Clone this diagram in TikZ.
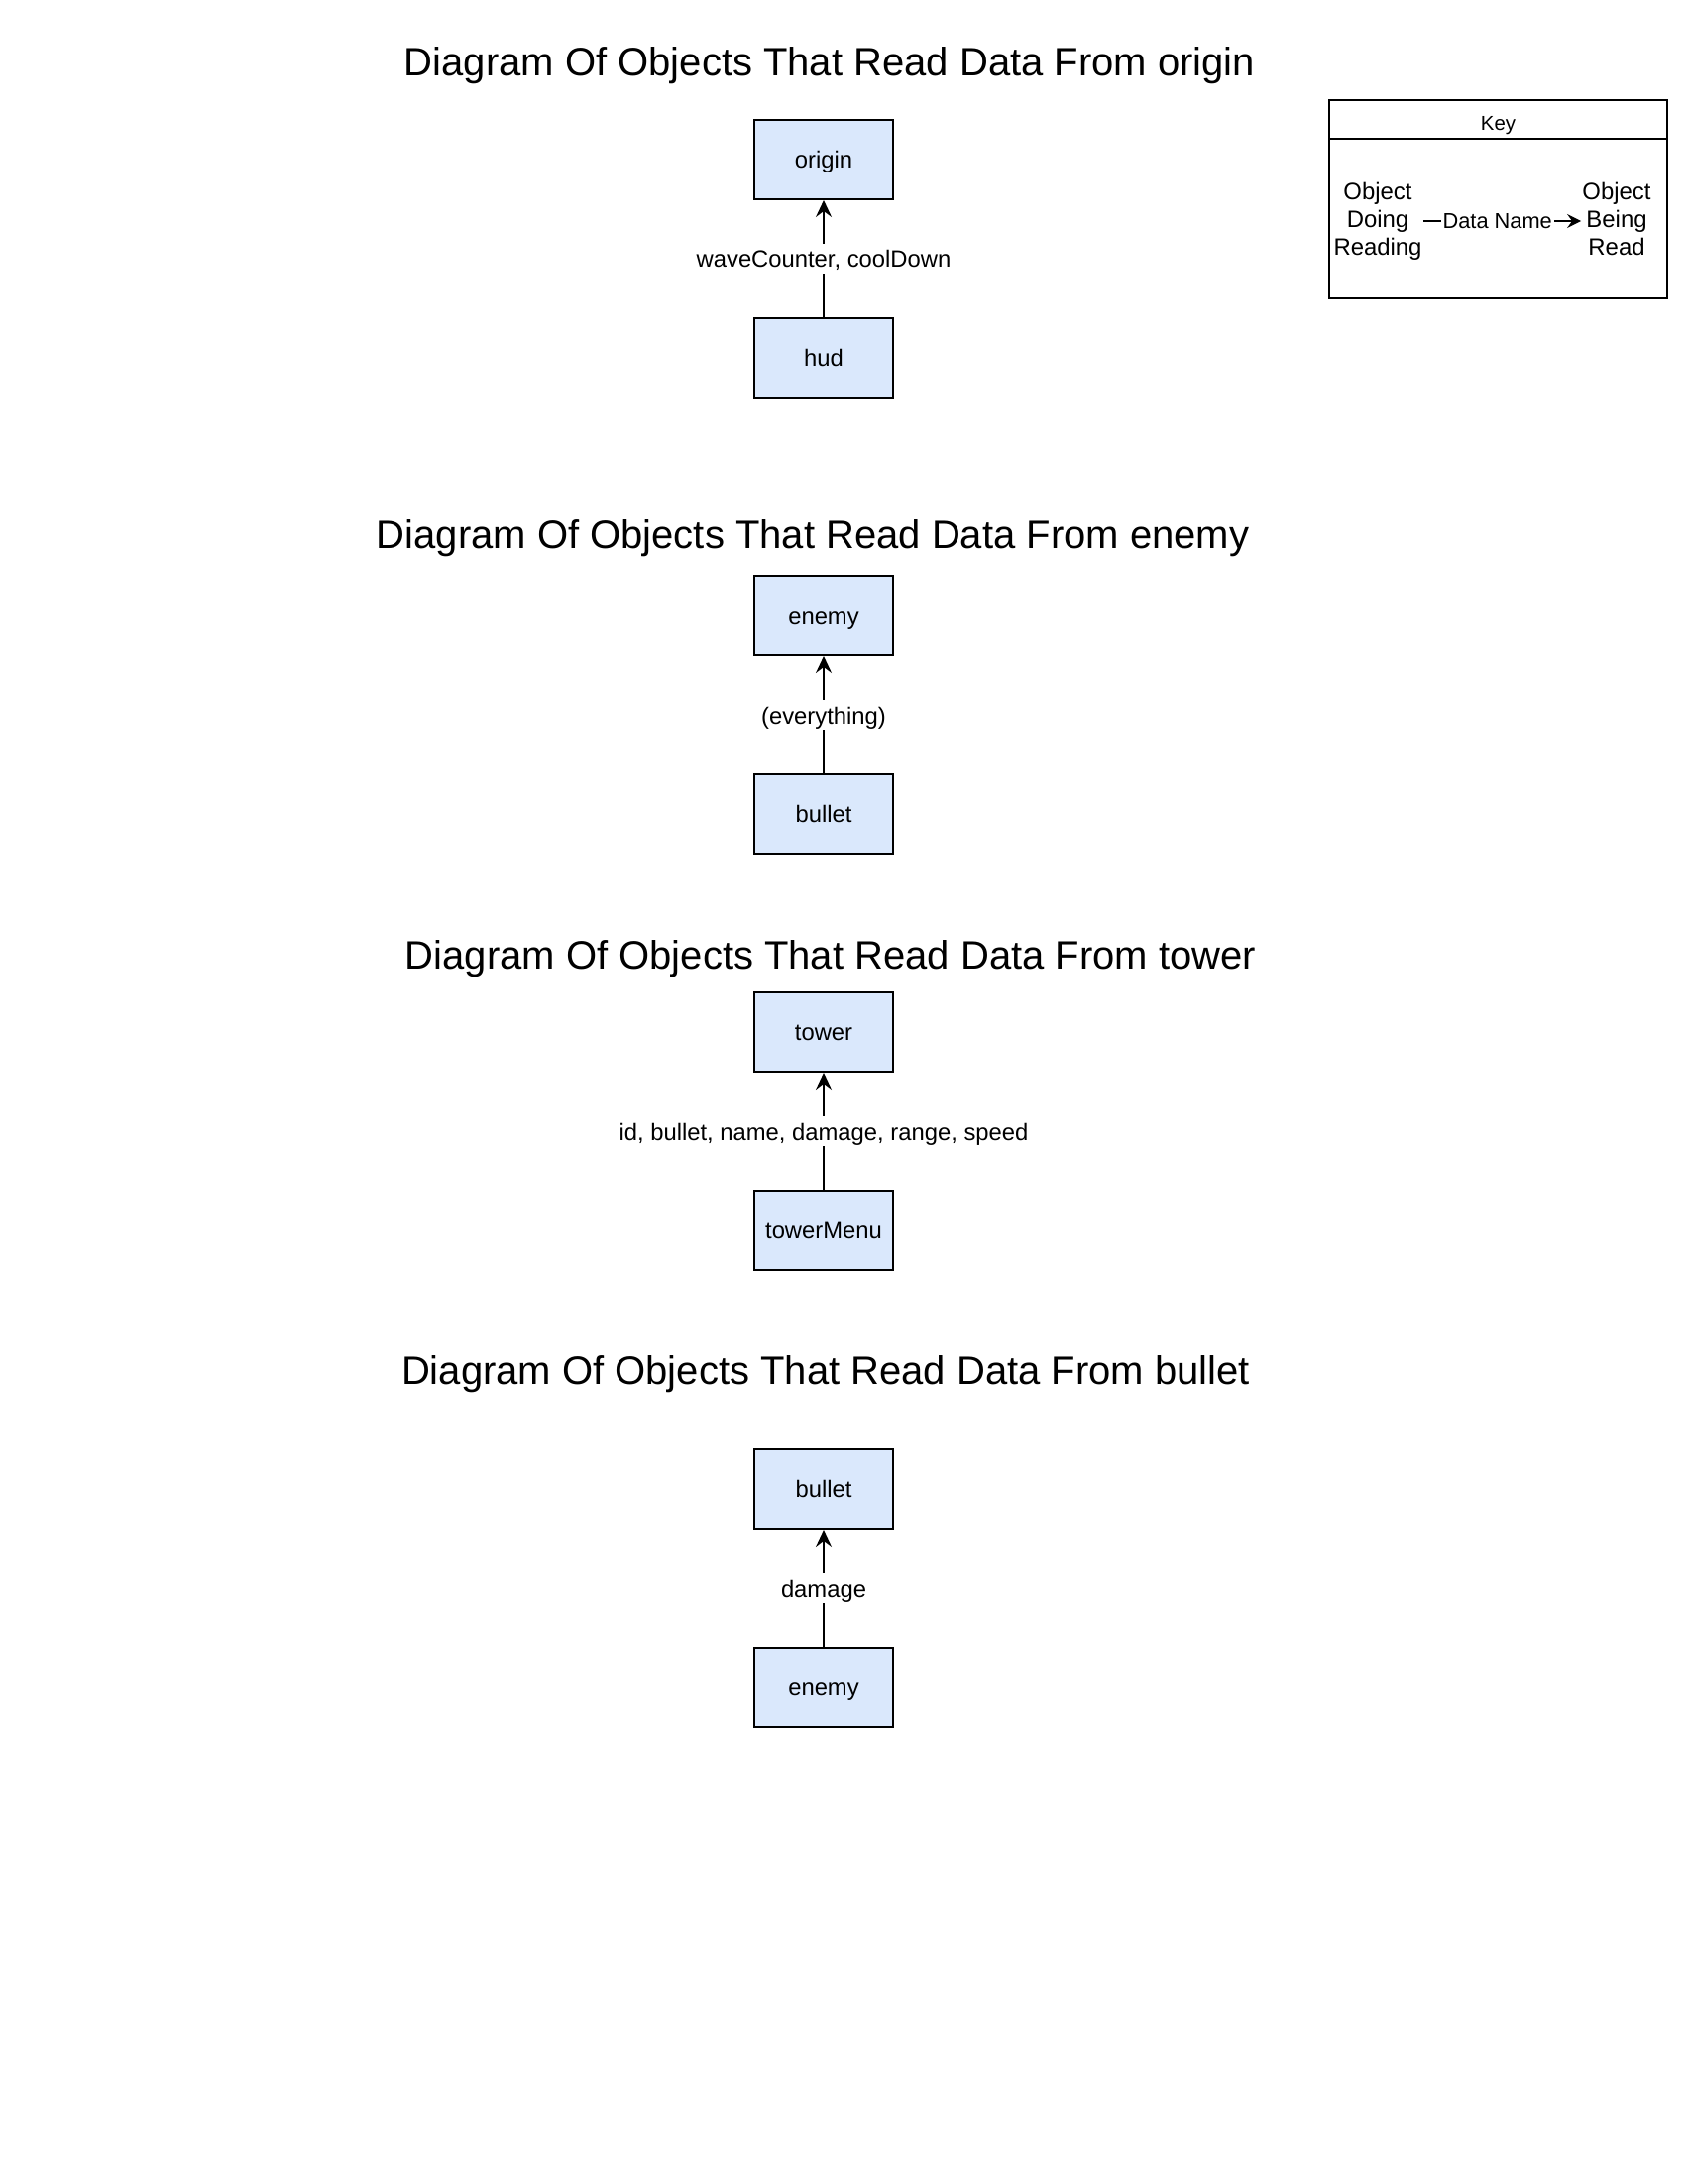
\documentclass[tikz,border=0pt]{standalone}
\usepackage{fontspec}
\setmainfont{Liberation Sans}
\usetikzlibrary{arrows.meta}
\definecolor{boxfill}{HTML}{DAE8FC}
\begin{document}
\begin{tikzpicture}[x=0.5pt,y=-0.5pt,
  objbox/.style={draw=black, fill=boxfill, line width=1pt, minimum width=70pt, minimum height=40pt, inner sep=0pt, text height=10.5pt, text depth=2pt, font=\fontsize{11.9}{14}\selectfont},
  readarrow/.style={-{Stealth[length=8.5pt,width=8pt,inset=3pt]}, line width=1pt},
  keyarrow/.style={-{Stealth[length=7pt,width=7pt,inset=2.5pt]}, line width=1pt},
  datalabel/.style={fill=white, inner sep=1.5pt, text height=10.5pt, text depth=1.5pt, font=\fontsize{11.9}{14}\selectfont},
  titletext/.style={anchor=base, inner sep=0pt, font=\fontsize{20}{24}\selectfont},
  keytext/.style={align=center, inner sep=0.5pt, text height=37pt, text depth=2.5pt, font=\fontsize{11.95}{14}\selectfont}]
\useasboundingbox (0,0) rectangle (1703,2203);

% Section 1
\node[titletext] (t1) at (837,77) {Diagram Of Objects That Read Data From origin};
\node[objbox] (origin) at (831,161) {origin};
\node[objbox] (hud) at (831,361) {hud};
\draw[readarrow] (hud) -- node[datalabel] (l1) {waveCounter, coolDown} (origin);

% Section 2
\node[titletext] (t2) at (820,553) {Diagram Of Objects That Read Data From enemy};
\node[objbox] (enemy1) at (831,621) {enemy};
\node[objbox] (bullet1) at (831,821) {bullet};
\draw[readarrow] (bullet1) -- node[datalabel] (l2) {(everything)} (enemy1);

% Section 3
\node[titletext] (t3) at (838,977) {Diagram Of Objects That Read Data From tower};
\node[objbox] (tower) at (831,1041) {tower};
\node[objbox] (towermenu) at (831,1241) {towerMenu};
\draw[readarrow] (towermenu) -- node[datalabel] (l3) {id, bullet, name, damage, range, speed} (tower);

% Section 4
\node[titletext] (t4) at (833,1396) {Diagram Of Objects That Read Data From bullet};
\node[objbox] (bullet2) at (831,1502) {bullet};
\node[objbox] (enemy2) at (831,1702) {enemy};
\draw[readarrow] (enemy2) -- node[datalabel] (l4) {damage} (bullet2);

% Key
\node[draw=black, line width=1pt, minimum width=170.5pt, minimum height=100pt, inner sep=0pt] (keybox) at (1511.5,201) {};
\draw[line width=1pt] ([yshift=-20pt]keybox.north west) -- ([yshift=-20pt]keybox.north east);
\node[anchor=base, inner sep=0pt, font=\fontsize{10.2}{12}\selectfont] (keytitle) at (1511.5,131.5) {Key};
\node[keytext] (kreader) at (1390,223) {Object\\Doing\\Reading};
\node[keytext] (kread) at (1631,223) {Object\\Being\\Read};
\draw[keyarrow] (kreader.east) -- node[pos=0.47, fill=white, inner sep=1pt, font=\fontsize{10.9}{12}\selectfont] (kdata) {Data Name} (kread.west);
\end{tikzpicture}
\end{document}
